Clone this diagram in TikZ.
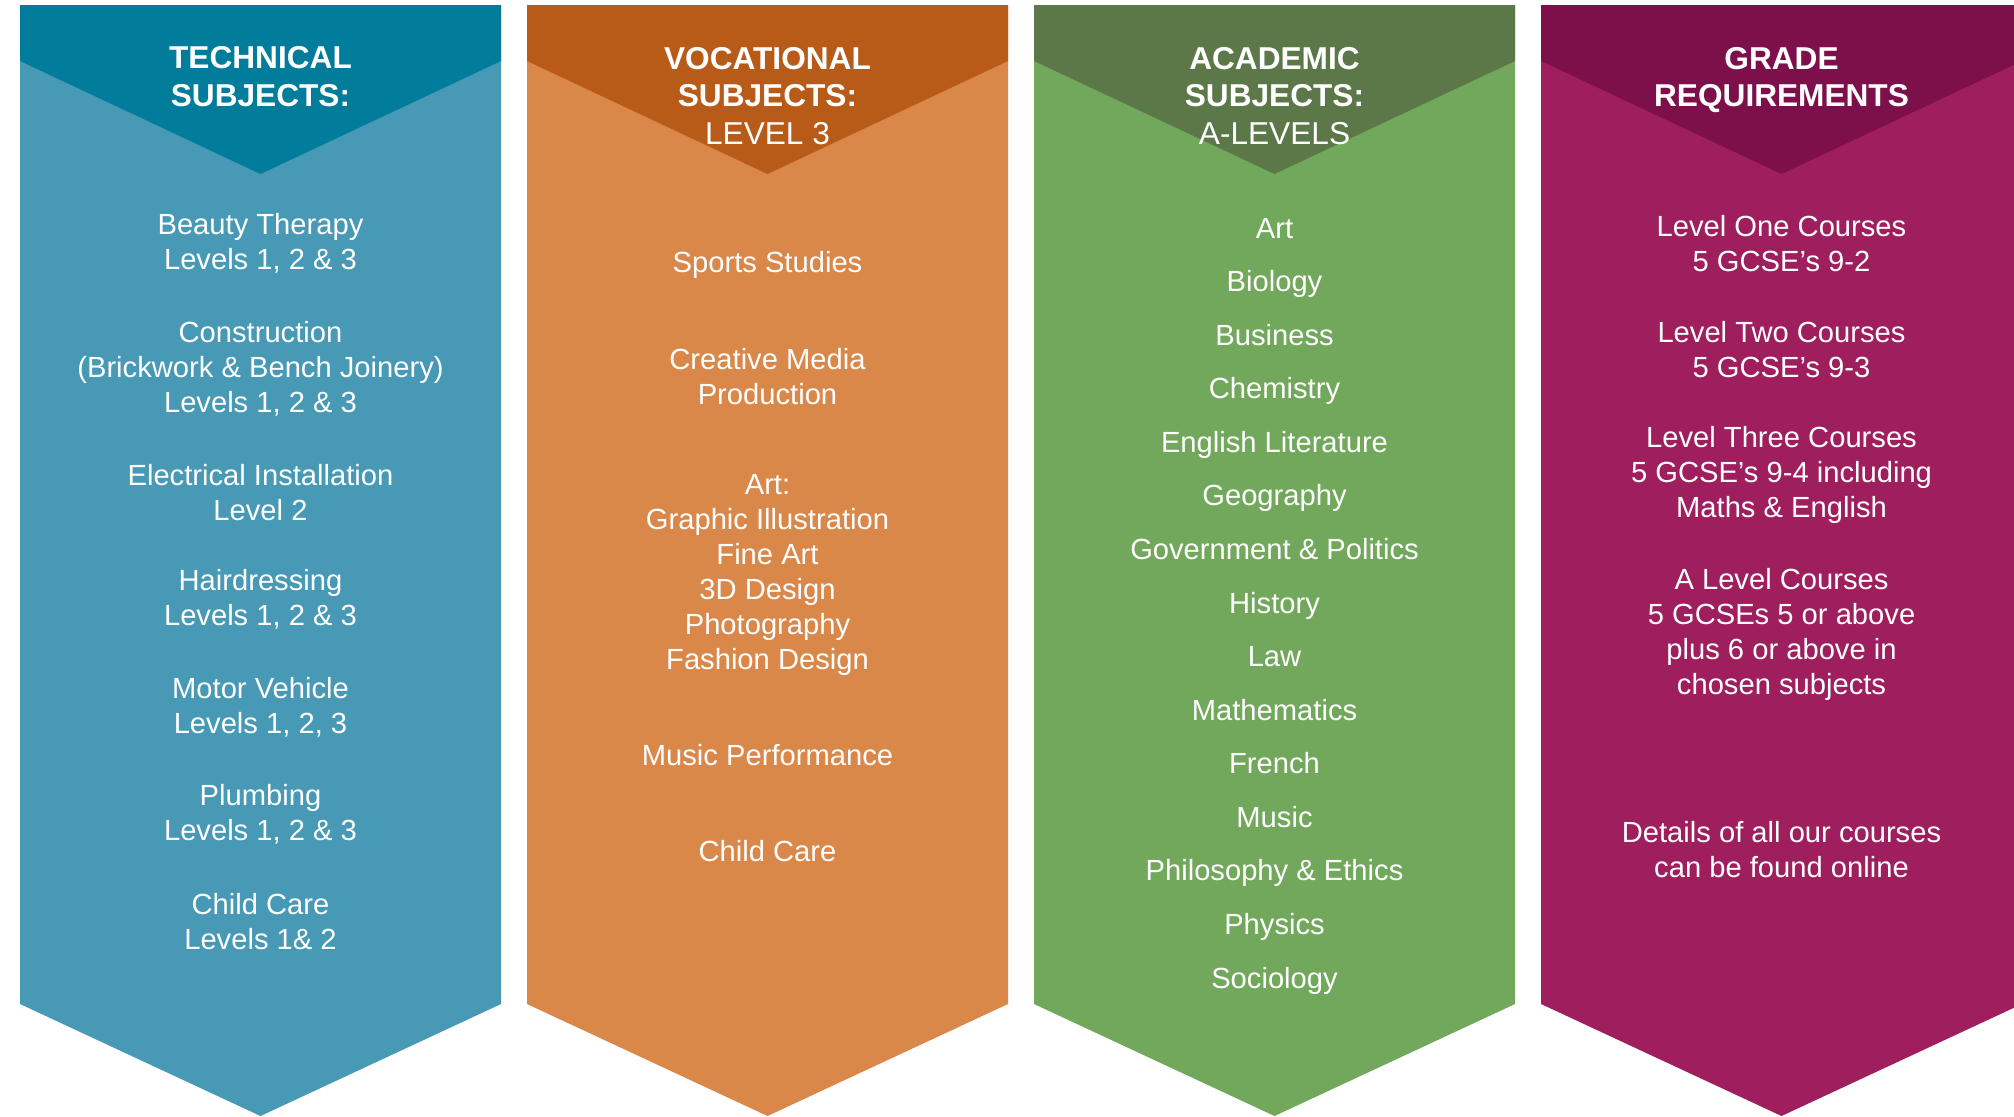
\documentclass[tikz,border=0pt]{standalone}
\usepackage{xcolor}
\usepackage{fontspec}
\setmainfont{Liberation Sans}
\usepackage{tikz}
\usetikzlibrary{positioning}
\definecolor{techdark}{HTML}{017C9A}
\definecolor{techlight}{HTML}{4799B5}
\definecolor{vocdark}{HTML}{B85A18}
\definecolor{voclight}{HTML}{DA874A}
\definecolor{acaddark}{HTML}{5C7849}
\definecolor{acadlight}{HTML}{72A85C}
\definecolor{gradedark}{HTML}{7D0F4B}
\definecolor{gradelight}{HTML}{9F1E5E}

\tikzset{
  heading/.style={text=white, align=center, font=\fontsize{18}{21.3}\selectfont\bfseries},
  entry/.style={text=white, align=center, font=\fontsize{16.6}{19.9}\selectfont},
  oneline/.style={entry, text height=0.72em, text depth=0.21em, yshift=-2.8pt},
}

\begin{document}
\begin{tikzpicture}[x=0.02cm, y=-0.02cm]
\useasboundingbox (0,0) rectangle (2014,1116);
\clip (0,0) rectangle (2014,1116);

% Draw the four chevron columns
\foreach \lx/\dark/\light in {20/techdark/techlight, 527/vocdark/voclight, 1034/acaddark/acadlight, 1541/gradedark/gradelight}{
  \fill[\light] (\lx,5) -- (\lx+481,5) -- (\lx+481,1004) -- (\lx+240.5,1116) -- (\lx,1004) -- cycle;
  \fill[\dark] (\lx,5) -- (\lx+481,5) -- (\lx+481,61) -- (\lx+240.5,174) -- (\lx,61) -- cycle;
}

% Headings
\node[heading] (techhead) at (260.5,76.4) {TECHNICAL\\SUBJECTS:};
\node[heading] (vochead) at (767.5,95.7) {VOCATIONAL\\SUBJECTS:\\{\mdseries LEVEL 3}};
\node[heading] (acadhead) at (1274.5,95.7) {ACADEMIC\\SUBJECTS:\\{\mdseries A-LEVELS}};
\node[heading] (gradehead) at (1781.5,80) {GRADE\\REQUIREMENTS};

% Technical subjects
\node[entry] (tech1) at (260.5,243.5) {Beauty Therapy\\Levels 1, 2 \& 3};
\node[entry] (tech2) at (260.5,369) {Construction\\(Brickwork \& Bench Joinery)\\Levels 1, 2 \& 3};
\node[entry] (tech3) at (260.5,492.5) {Electrical Installation\\Level 2};
\node[entry] (tech4) at (260.5,599) {Hairdressing\\Levels 1, 2 \& 3};
\node[entry] (tech5) at (260.5,707) {Motor Vehicle\\Levels 1, 2, 3};
\node[entry] (tech6) at (260.5,814) {Plumbing\\Levels 1, 2 \& 3};
\node[entry] (tech7) at (260.5,921.5) {Child Care\\Levels 1\& 2};

% Vocational subjects
\node[oneline] (voc1) at (767.5,263) {Sports Studies};
\node[entry] (voc2) at (767.5,376.5) {Creative Media\\Production};
\node[entry] (voc3) at (767.5,575) {Art:\\Graphic Illustration\\Fine Art\\3D Design\\Photography\\Fashion Design};
\node[oneline] (voc4) at (767.5,756.5) {Music Performance};
\node[oneline] (voc5) at (767.5,851.6) {Child Care};

% Academic subjects
\foreach \subj [count=\i] in {Art, Biology, Business, Chemistry, English Literature, Geography, Government \& Politics, History, Law, Mathematics, French, Music, Philosophy \& Ethics, Physics, Sociology}
  \node[oneline] (acad\i) at (1274.5,{228.6+53.58*(\i-1)}) {\subj};

% Grade requirements
\node[entry] (grade1) at (1781.5,243.5) {Level One Courses\\5 GCSE’s 9-2};
\node[entry] (grade2) at (1781.5,350) {Level Two Courses\\5 GCSE’s 9-3};
\node[entry] (grade3) at (1781.5,475) {Level Three Courses\\5 GCSE’s 9-4 including\\Maths \& English};
\node[entry] (grade4) at (1781.5,634.5) {A Level Courses\\5 GCSEs 5 or above\\plus 6 or above in\\chosen subjects};
\node[entry] (grade5) at (1781.5,849.6) {Details of all our courses\\can be found online};
\end{tikzpicture}
\end{document}
